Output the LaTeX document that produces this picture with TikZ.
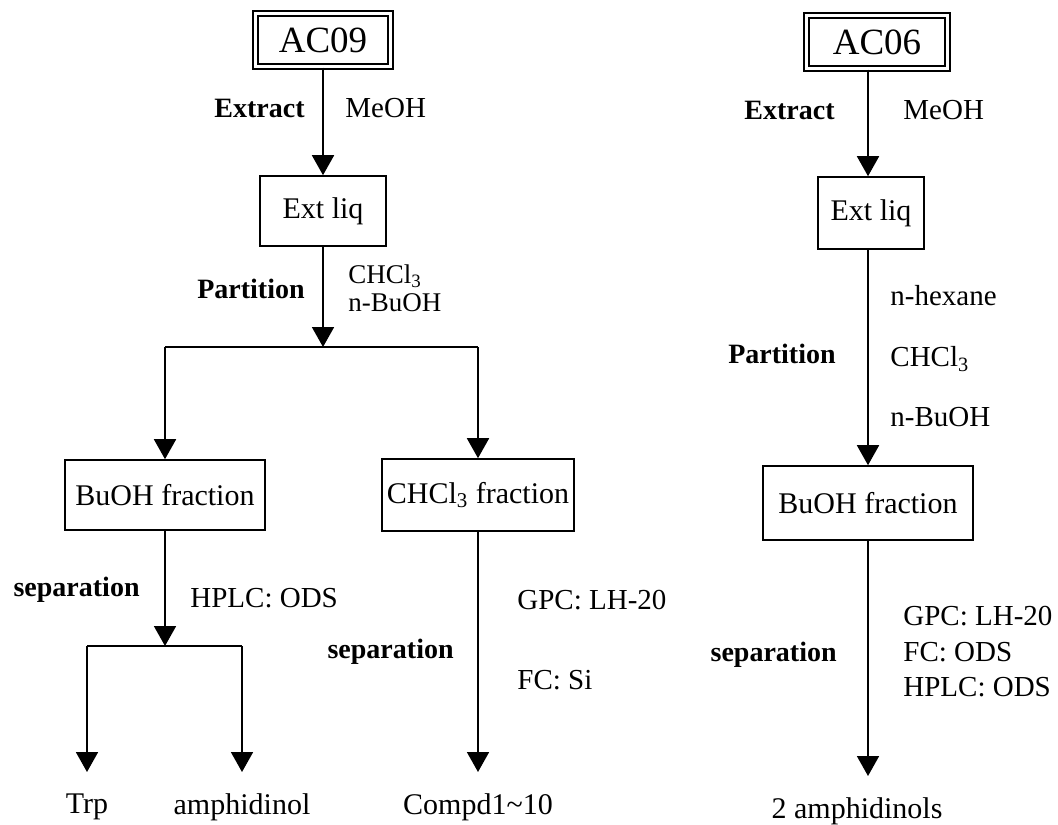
\documentclass[tikz,border=0pt]{standalone}
\usepackage{fontspec}
\setmainfont{Liberation Serif}
\usetikzlibrary{arrows.meta,positioning}

\begin{document}
\begin{tikzpicture}[x=0.5pt, y=-0.5pt,
  every node/.style={font=\fontsize{15}{18}\selectfont, inner sep=0pt},
  box/.style={draw, line width=0.8pt},
  srcbox/.style={draw, double, line width=1.1pt, double distance=1.4pt, font=\fontsize{18.5}{22}\selectfont},
  stage/.style={font=\fontsize{14}{17}\selectfont\bfseries},
  reag/.style={font=\fontsize{14.5}{17}\selectfont},
  prod/.style={anchor=north, outer ysep=11pt},
  flow/.style={-{Triangle[width=11pt, length=10pt]}, line width=0.9pt},
  link/.style={line width=0.9pt}]
\useasboundingbox (0,0) rectangle (1058,824);

% AC09
\node[srcbox, minimum width=67.5pt, minimum height=26.5pt] (ac09) at (323,40) {AC09};
\node[box, minimum width=63pt, minimum height=35pt] (extA) at (323,211) {Ext liq};
\node[box, minimum width=100pt, minimum height=35pt] (buA) at (165,495) {BuOH fraction};
\node[box, minimum width=96pt, minimum height=36pt] (chA) at (478,495) {CHCl\textsubscript{3} fraction};
\coordinate (jA) at (323,347);
\coordinate (jB) at (165,646);
\node[prod] (trp) at (87,772) {Trp};
\node[prod] (amA) at (242,772) {amphidinol};
\node[prod] (cpd) at (478,772) {Compd1\textasciitilde10};

\node[stage, anchor=east] (exA) at (305,108) {Extract};
\node[reag, anchor=west] (meA) at (345,108) {MeOH};
\node[stage, anchor=east] (paA) at (305,289) {Partition};
\node[reag, anchor=west, font=\fontsize{13.5}{16}\selectfont] (c3A) at (348,276) {CHCl\textsubscript{3}};
\node[reag, anchor=west, font=\fontsize{13.5}{16}\selectfont] (nbA) at (348,303) {n-BuOH};
\node[stage, anchor=east] (seA) at (140,590) {separation};
\node[reag, anchor=west] (hpA) at (190,598) {HPLC: ODS};
\node[stage, anchor=east] (seC) at (454,652) {separation};
\node[reag, anchor=west] (gpC) at (517,600) {GPC: LH-20};
\node[reag, anchor=west] (fcC) at (517,680) {FC: Si};

\draw[flow] (ac09) -- (extA);
\draw[flow] (extA) -- (jA);
\draw[link] (buA |- jA) -- (chA |- jA);
\draw[flow] (buA |- jA) -- (buA);
\draw[flow] (chA |- jA) -- (chA);
\draw[flow] (buA) -- (jB);
\draw[link] (trp |- jB) -- (amA |- jB);
\draw[flow] (trp |- jB) -- (trp);
\draw[flow] (amA |- jB) -- (amA);
\draw[flow] (chA) -- (cpd);

% AC06
\node[srcbox, minimum width=70.5pt, minimum height=26.5pt] (ac06) at (877,42) {AC06};
\node[box, minimum width=53pt, minimum height=36pt] (extB) at (871,213) {Ext liq};
\node[box, minimum width=105pt, minimum height=37pt] (buB) at (868,503) {BuOH fraction};
\node[prod] (amB) at (857,776) {2 amphidinols};

\node[stage, anchor=east] (exB) at (835,110) {Extract};
\node[reag, anchor=west] (meB) at (903,110) {MeOH};
\node[reag, anchor=west] (hxB) at (890,296) {n-hexane};
\node[stage, anchor=east] (paB) at (836,354) {Partition};
\node[reag, anchor=west] (c3B) at (890,359) {CHCl\textsubscript{3}};
\node[reag, anchor=west] (nbB) at (890,417) {n-BuOH};
\node[stage, anchor=east] (seB) at (837,655) {separation};
\node[reag, anchor=west] (gpB) at (903,616) {GPC: LH-20};
\node[reag, anchor=west] (fcB) at (903,652) {FC: ODS};
\node[reag, anchor=west] (hpB) at (903,687) {HPLC: ODS};

\draw[flow] (ac06.south -| buB) -- (extB.north -| buB);
\draw[flow] (extB.south -| buB) -- (buB);
\draw[flow] (buB) -- (amB.north -| buB);
\end{tikzpicture}
\end{document}
